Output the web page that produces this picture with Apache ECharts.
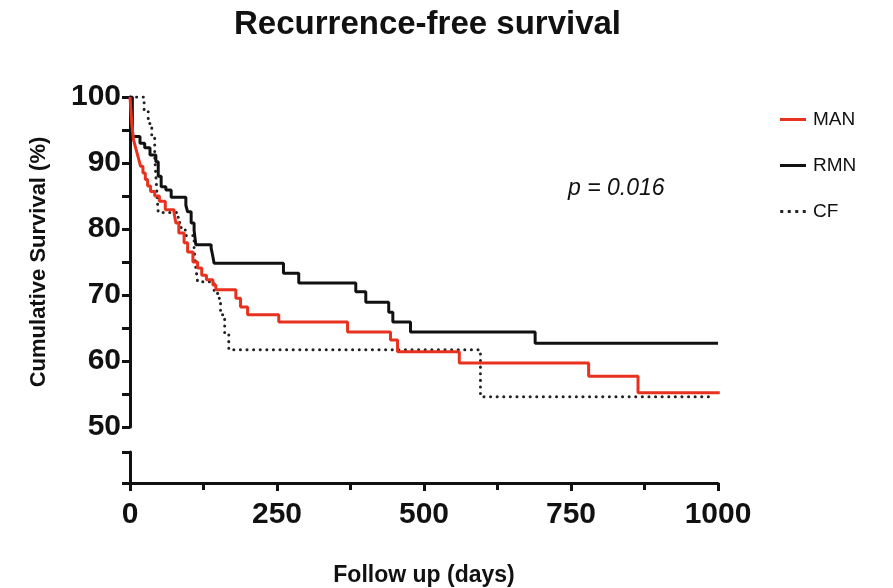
<!DOCTYPE html>
<html>
<head>
<meta charset="utf-8">
<script src="https://cdn.jsdelivr.net/npm/echarts@6/dist/echarts.min.js"></script>
<style>html,body{margin:0;padding:0;background:#fff;}#c{width:893px;height:588px;}</style>
</head>
<body>
<div id="c"></div>
<script>
// ---- data ----
const manDays = [0, 3, 6, 9, 12, 15, 18, 22, 26, 30, 35, 42, 50, 60, 75, 78, 83, 92, 98, 107, 115, 122, 130, 141, 146, 180, 188, 200, 253, 370, 443, 455, 560, 780, 864, 1003];
const manSurv = [100, 96, 93.5, 92.5, 91.5, 90.5, 89.5, 88.5, 87.5, 86.5, 85.7, 85, 84.2, 82.9, 82.4, 80.9, 79.4, 77.9, 76.5, 75, 74.1, 73, 72.3, 71.5, 70.8, 69.5, 68.2, 67, 65.9, 64.4, 63.2, 61.4, 59.7, 57.7, 55.2, 55.2];

const rmnDays = [0, 4, 17, 25, 34, 44, 48, 53, 61, 70, 95, 98, 104, 109, 112, 138, 141, 143, 261, 287, 384, 401, 440, 447, 477, 689, 1000];
const rmnSurv = [100, 94, 93, 92.3, 91.2, 90.2, 88, 86.4, 85.9, 84.8, 83.6, 82.6, 80.9, 79.8, 77.6, 77.1, 75.8, 74.8, 73.3, 71.8, 70.5, 68.9, 67.4, 65.9, 64.4, 62.7, 62.7];

const cfDays = [0, 24, 31, 37, 42, 44, 46, 48, 82, 87, 94, 109, 112, 115, 143, 149, 154, 161, 168, 596, 990];
const cfSurv = [100, 98, 96, 94, 91, 88, 85, 82.5, 81, 80, 79, 77, 74, 72, 70.5, 69.5, 67, 64, 61.7, 54.6, 54.6];

const seriesNames = ['MAN', 'RMN', 'CF'];
const yTickValues = [50, 60, 70, 80, 90, 100];
const xTickValues = [0, 250, 500, 750, 1000];

function pairs(xs, ys) { return xs.map((x, i) => [x, ys[i]]); }

const chart = echarts.init(document.getElementById('c'), null, {renderer: 'canvas'});
const FONT = 'Liberation Sans, Arial, Helvetica, sans-serif';
const axisLine = {show: true, lineStyle: {color: '#111', width: 3}};
const SOLID_ICON = 'path://M0,0 L26,0 L26,3 L0,3 Z';
const DOT_ICON = 'path://M0,0h3v3h-3z M7.5,0h3v3h-3z M15,0h3v3h-3z M22.5,0h3v3h-3z';

chart.setOption({
  backgroundColor: '#ffffff',
  animation: false,
  title: {
    text: 'Recurrence-free survival',
    left: 229, top: 3,
    textStyle: {fontFamily: FONT, fontWeight: 'bold', fontSize: 33, color: '#111'}
  },
  legend: {
    orient: 'vertical',
    left: 775, top: 105,
    itemWidth: 26, itemHeight: 3, itemGap: 27,
    data: [
      {name: seriesNames[0], icon: SOLID_ICON},
      {name: seriesNames[1], icon: SOLID_ICON},
      {name: seriesNames[2], icon: DOT_ICON}
    ],
    textStyle: {fontFamily: FONT, fontSize: 19, color: '#111', padding: [0, 0, 0, 2]}
  },
  grid: [
    {left: 130, right: 175, top: 97, height: 330},
    {left: 130, right: 175, top: 452, height: 37}
  ],
  xAxis: [
    {gridIndex: 0, type: 'value', min: 0, max: 1000, show: false},
    {
      gridIndex: 1, type: 'value', min: 0, max: 1000, interval: 250,
      axisLine: axisLine,
      axisTick: {show: true, length: 8, lineStyle: {color: '#111', width: 3}},
      minorTick: {show: true, splitNumber: 2, length: 7, lineStyle: {color: '#111', width: 3}},
      splitLine: {show: false},
      axisLabel: {margin: 17, fontFamily: FONT, fontWeight: 'bold', fontSize: 30, color: '#111',
        formatter: v => xTickValues.includes(v) ? String(v) : ''},
      name: 'Follow up (days)', nameLocation: 'middle', nameGap: 81,
      nameTextStyle: {fontFamily: FONT, fontWeight: 'bold', fontSize: 23, color: '#111'}
    }
  ],
  yAxis: [
    {
      gridIndex: 0, type: 'value', min: 50, max: 100, interval: 10,
      axisLine: axisLine,
      axisTick: {show: true, length: 8, lineStyle: {color: '#111', width: 3}},
      minorTick: {show: true, splitNumber: 2, length: 8, lineStyle: {color: '#111', width: 3}},
      splitLine: {show: false},
      axisLabel: {margin: 9, fontFamily: FONT, fontWeight: 'bold', fontSize: 30, color: '#111',
        formatter: v => yTickValues.includes(v) ? String(v) : ''},
      name: 'Cumulative Survival (%)', nameLocation: 'middle', nameGap: 80,
      nameTextStyle: {fontFamily: FONT, fontWeight: 'bold', fontSize: 22, color: '#111'}
    },
    {
      gridIndex: 1, type: 'value', min: 0, max: 1, interval: 1,
      axisLine: axisLine,
      axisTick: {show: true, length: 8, lineStyle: {color: '#111', width: 3}},
      splitLine: {show: false},
      axisLabel: {show: false}
    }
  ],
  series: [
    {
      name: 'MAN', type: 'line', step: 'end', xAxisIndex: 0, yAxisIndex: 0,
      data: pairs(manDays, manSurv), symbol: 'none', z: 4, clip: false,
      lineStyle: {color: '#e8321f', width: 3}, itemStyle: {color: '#e8321f'}
    },
    {
      name: 'RMN', type: 'line', step: 'end', xAxisIndex: 0, yAxisIndex: 0,
      data: pairs(rmnDays, rmnSurv), symbol: 'none', z: 3,
      lineStyle: {color: '#111', width: 3}, itemStyle: {color: '#111'}
    },
    {
      name: 'CF', type: 'line', step: 'end', xAxisIndex: 0, yAxisIndex: 0,
      data: pairs(cfDays, cfSurv), symbol: 'none', z: 2,
      lineStyle: {color: '#222', width: 3, type: [0.1, 6.5], cap: 'round'}, itemStyle: {color: '#222'}
    }
  ],
  graphic: [
    {
      type: 'text', left: 568, top: 177,
      style: {text: 'p = 0.016', font: 'italic 23px ' + FONT, fill: '#111'}
    }
  ]
});
</script>
</body>
</html>
